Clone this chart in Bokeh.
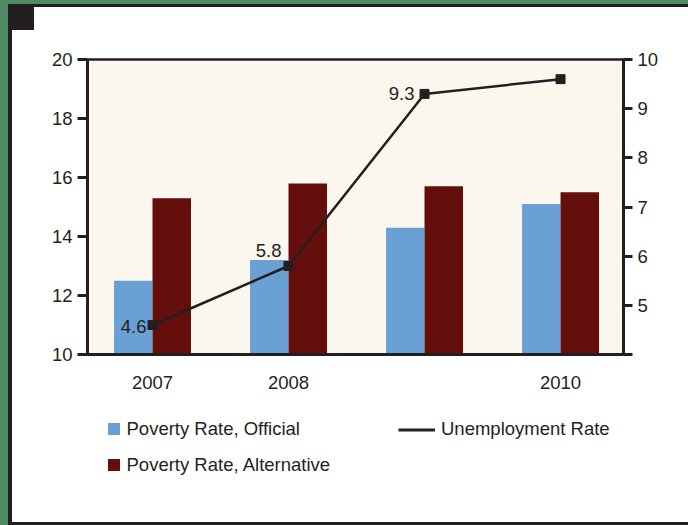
from bokeh.plotting import figure
from bokeh.layouts import column
from bokeh.models import (Range1d, LinearAxis, FixedTicker, ColumnDataSource,
                          Legend, LegendItem)
from bokeh.transform import dodge
from bokeh.core.properties import value
from bokeh.embed import file_html
from bokeh.resources import INLINE

# ---------------- data ----------------
years = ["2007", "2008", "2009", "2010"]
tick_labels = ["2007", "2008", "", "2010"]
poverty_official = [12.5, 13.2, 14.3, 15.1]
poverty_alternative = [15.3, 15.8, 15.7, 15.5]
unemployment = [4.6, 5.8, 9.3, 9.6]
unemployment_labels = ["4.6", "5.8", "9.3", ""]
left_ticks = [10, 12, 14, 16, 18, 20]
right_ticks = [4, 5, 6, 7, 8, 9, 10]
series_names = ["Poverty Rate, Official", "Poverty Rate, Alternative",
                "Unemployment Rate"]

# ---------------- style ----------------
DARK = "#231f20"
BLUE = "#6aa1d5"
RED = "#650f0c"
CREAM = "#fbf6ee"
GREEN = "#4f8a63"
FONT = "Liberation Sans"
FS = "18.5px"
label_dx = [-6, -7, -10, 0]
label_dy = [1, -16, 0, 0]

idx = list(range(len(years)))
src = ColumnDataSource(dict(
    x=idx, official=poverty_official, alternative=poverty_alternative,
    unemp=unemployment, lab=unemployment_labels, dx=label_dx, dy=label_dy,
))

p = figure(width=688, height=400,
           x_range=Range1d(-0.478, 3.463), y_range=Range1d(10, 20),
           output_backend="svg", toolbar_location=None,
           min_border_left=87, min_border_right=65,
           min_border_top=59, min_border_bottom=46)
p.border_fill_color = None
p.background_fill_color = CREAM
p.outline_line_color = DARK
p.outline_line_width = 2.5
p.grid.visible = False

p.extra_y_ranges = {"unemp": Range1d(4, 10)}

# bars
w = 0.283
r_off = p.vbar(x=dodge("x", -w / 2, range=p.x_range), top="official", width=w,
               source=src, fill_color=BLUE, line_color=None)
r_alt = p.vbar(x=dodge("x", w / 2, range=p.x_range), top="alternative", width=w,
               source=src, fill_color=RED, line_color=None)

# line
r_line = p.line(x="x", y="unemp", y_range_name="unemp", source=src,
                line_color=DARK, line_width=2.5)
p.scatter(x="x", y="unemp", y_range_name="unemp", source=src, marker="square",
          size=9, fill_color=DARK, line_color=DARK)
p.text(x="x", y="unemp", text="lab", y_range_name="unemp", source=src,
       x_offset="dx", y_offset="dy", text_align="right", text_baseline="middle",
       text_font=value(FONT), text_font_size=FS, text_color=DARK)

# axes
def style_axis(ax):
    ax.axis_line_color = DARK
    ax.axis_line_width = 3
    ax.major_tick_line_color = DARK
    ax.major_tick_line_width = 3
    ax.minor_tick_line_color = None
    ax.major_tick_in = 0
    ax.major_label_text_font = FONT
    ax.major_label_text_font_size = FS
    ax.major_label_text_color = DARK

xa = p.xaxis[0]
style_axis(xa)
xa.ticker = FixedTicker(ticks=idx)
xa.major_label_overrides = {i: t for i, t in zip(idx, tick_labels)}
xa.major_tick_out = 0
xa.major_tick_line_color = None
xa.major_label_standoff = 21

ya = p.yaxis[0]
style_axis(ya)
ya.ticker = FixedTicker(ticks=left_ticks)
ya.major_tick_out = 10
ya.major_label_standoff = 5

ra = LinearAxis(y_range_name="unemp", ticker=FixedTicker(ticks=right_ticks))
style_axis(ra)
ra.major_tick_out = 9
ra.major_label_standoff = 5
ra.major_label_overrides = {4: ""}
p.add_layout(ra, "right")

# ---------------- legend strip (own figure below the chart) ----------------
# its ranges lie away from the data, so only the legend shows
q = figure(width=688, height=125, x_range=Range1d(100, 101),
           y_range=Range1d(100, 101),
           output_backend="svg", toolbar_location=None,
           x_axis_type=None, y_axis_type=None,
           min_border_left=0, min_border_right=0, min_border_top=0,
           min_border_bottom=0)
q.border_fill_color = None
q.background_fill_color = None
q.outline_line_color = None
q.grid.visible = False

k_off = q.vbar(x="x", top="official", width=w, source=src,
               fill_color=BLUE, line_color=None)
k_alt = q.vbar(x="x", top="alternative", width=w, source=src,
               fill_color=RED, line_color=None)
k_line = q.line(x="x", y="unemp", source=src, line_color=DARK, line_width=3)

def style_legend(lg):
    lg.border_line_alpha = 0
    lg.background_fill_alpha = 0
    lg.padding = 0
    lg.margin = 0
    lg.label_text_font = FONT
    lg.label_text_font_size = FS
    lg.label_text_color = DARK
    lg.label_height = 20
    lg.click_policy = "none"

leg1 = Legend(items=[LegendItem(label=series_names[0], renderers=[k_off]),
                     LegendItem(label=series_names[1], renderers=[k_alt])],
              location=(18.5, 49.5))
style_legend(leg1)
leg1.glyph_width = 15
leg1.glyph_height = 15
leg1.label_standoff = 6
leg1.spacing = 14
q.add_layout(leg1, "center")

leg2 = Legend(items=[LegendItem(label=series_names[2], renderers=[k_line])],
              location=(311, 85))
style_legend(leg2)
leg2.glyph_width = 37
leg2.glyph_height = 15
leg2.label_standoff = 6
q.add_layout(leg2, "center")

# ---------------- page frame ----------------
d = "linear-gradient(%s,%s)" % (DARK, DARK)
gr = "linear-gradient(%s,%s)" % (GREEN, GREEN)
layout = column(p, q, spacing=0)
layout.styles = {
    "background": ", ".join([
        d + " 8px 4px/26px 26px no-repeat",
        d + " 8px 4px/4px 100% no-repeat",
        d + " 8px 4px/100% 3px no-repeat",
        d + " 8px 100%/100% 3px no-repeat",
        gr + " 0 0/8px 100% no-repeat",
        gr + " 0 0/100% 4px no-repeat",
        "#ffffff",
    ]),
}

open("out.html", "w").write(file_html(layout, INLINE))
